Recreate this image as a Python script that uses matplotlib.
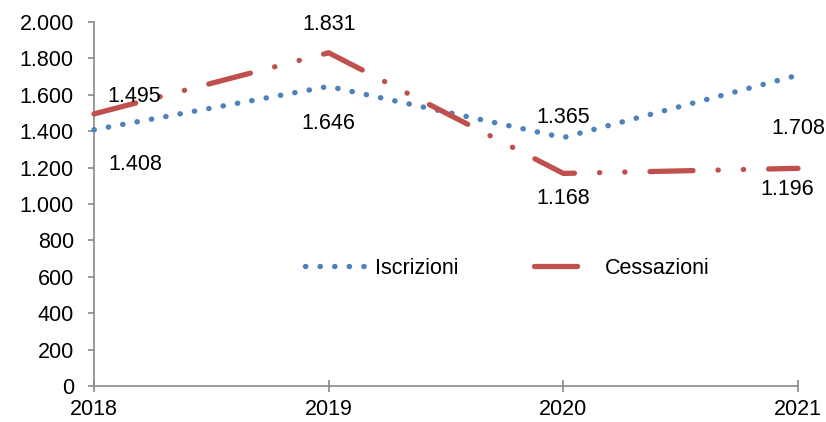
import matplotlib
matplotlib.use("Agg")
import matplotlib.pyplot as plt
from matplotlib.ticker import FuncFormatter

plt.rcParams['font.family'] = ['Liberation Sans', 'DejaVu Sans']
plt.rcParams['lines.scale_dashes'] = False

anni = [2018, 2019, 2020, 2021]
iscrizioni = [1408, 1646, 1365, 1708]
cessazioni = [1495, 1831, 1168, 1196]

# offset (pixel) delle etichette rispetto al punto
off_iscr = [(41, -35), (0, -37), (0, 20), (0, -53)]
off_cess = [(40, 17), (0, 28), (0, -25), (-11, -21)]

col_blu = '#4F81BD'
col_rosso = '#C0504D'
col_assi = '#898989'
fs = 15.5

fig = plt.figure(figsize=(8.26, 4.22), dpi=100)
ax = fig.add_axes([94 / 826, 1 - 386 / 422, (798 - 94) / 826, (386 - 22) / 422])

ax.plot(anni, iscrizioni, color=col_blu, lw=3.9, linestyle=(0, (0.2, 10.3)),
        dash_capstyle='round', label='Iscrizioni', clip_on=False, zorder=3)
ax.plot(anni, cessazioni, color=col_rosso, lw=3.8, linestyle=(0, (31, 18, 0.2, 18, 0.2, 18)),
        dash_capstyle='round', solid_capstyle='round', label='Cessazioni', clip_on=False, zorder=3)

fmt = lambda v: f"{v:,.0f}".replace(',', '.')
for x, y, o in zip(anni, iscrizioni, off_iscr):
    ax.annotate(fmt(y), (x, y), xytext=o, textcoords='offset pixels',
                ha='center', va='center', fontsize=fs)
for x, y, o in zip(anni, cessazioni, off_cess):
    ax.annotate(fmt(y), (x, y), xytext=o, textcoords='offset pixels',
                ha='center', va='center', fontsize=fs)

ax.set_xlim(2018, 2021)
ax.set_ylim(0, 2000)
ax.set_xticks(anni)
ax.set_yticks(range(0, 2001, 200))
ax.yaxis.set_major_formatter(FuncFormatter(lambda v, p: fmt(v)))

for s in ['top', 'right']:
    ax.spines[s].set_visible(False)
for s in ['left', 'bottom']:
    ax.spines[s].set_color(col_assi)
    ax.spines[s].set_linewidth(1.2)

ax.tick_params(axis='y', direction='out', length=4.5, width=1.2, color=col_assi,
               labelsize=fs, pad=10)
ax.tick_params(axis='x', direction='inout', length=9, width=1.2, color=col_assi,
               labelsize=fs, pad=5)

ax.legend(loc='center left', bbox_to_anchor=((305 - 94) / 704, (386 - 268) / 364),
          ncol=2, frameon=False, fontsize=fs, handlelength=2.9, handletextpad=0.37,
          columnspacing=3.5, borderpad=0, borderaxespad=0)

fig.savefig('out.png', dpi=100)
